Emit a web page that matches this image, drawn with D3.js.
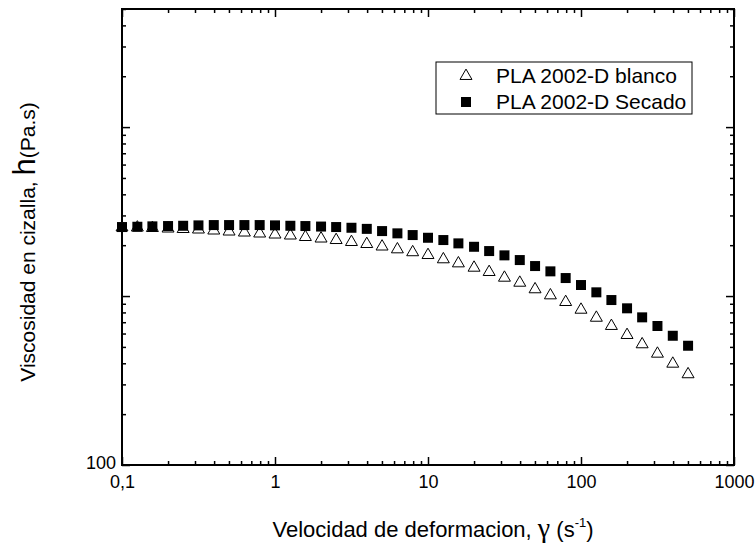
<!DOCTYPE html>
<html>
<head>
<meta charset="utf-8">
<script src="https://cdn.jsdelivr.net/npm/d3@7"></script>
<style>
body { margin: 0; background: #fff; }
</style>
</head>
<body>
<div id="chart"></div>
<script>
// shear rate (1/s), 10 points per decade
var shearRate = [0.1, 0.126, 0.158, 0.2, 0.251, 0.316, 0.398, 0.501, 0.631, 0.794,
    1, 1.26, 1.58, 2, 2.51, 3.16, 3.98, 5.01, 6.31, 7.94,
    10, 12.6, 15.8, 20, 25.1, 31.6, 39.8, 50.1, 63.1, 79.4,
    100, 126, 158, 200, 251, 316, 398, 501];

// PLA 2002-D blanco (open triangles)
var viscBlanco = [2578, 2578, 2561, 2543, 2526, 2509, 2475, 2441, 2408, 2376,
    2343, 2312, 2265, 2219, 2174, 2116, 2059, 1990, 1915, 1841,
    1772, 1672, 1582, 1491, 1406, 1301, 1215, 1111, 1023, 934,
    841, 754, 674, 596, 525, 462, 403, 349];

// PLA 2002-D Secado (filled squares)
var viscSecado = [2561, 2571, 2585, 2596, 2606, 2620, 2631, 2631, 2631, 2631,
    2620, 2606, 2596, 2578, 2561, 2536, 2498, 2424, 2350, 2296,
    2213, 2145, 2050, 1957, 1846, 1741, 1633, 1505, 1400, 1278,
    1162, 1052, 947, 846, 748, 665, 582, 508];

var xTickValues = [0.1, 1, 10, 100, 1000];
var xTickLabels = ["0,1", "1", "10", "100", "1000"];
var yTickValues = [100];
var yTickLabels = ["100"];
var seriesNames = ["PLA 2002-D blanco", "PLA 2002-D Secado"];

const width = 755, height = 544;
const margin = { top: 9, right: 21, bottom: 79, left: 122 };
const font = "'Liberation Sans', Arial, sans-serif";

var svg = d3.select("#chart")
    .append("svg")
    .attr("width", width)
    .attr("height", height)
    .style("font-family", font);

var x = d3.scaleLog()
    .domain([0.1, 1000])
    .range([margin.left, width - margin.right]);

var y = d3.scaleLog()
    .domain([100, 50000])
    .range([height - margin.bottom, margin.top]);

function isMajor(v) {
    var l = Math.log10(v);
    return Math.abs(l - Math.round(l)) < 1e-6;
}

var xMinor = x.ticks().filter(v => !isMajor(v));
var xMajor = x.ticks().filter(isMajor);
var yMinor = y.ticks().filter(v => !isMajor(v));
var yMajor = y.ticks().filter(isMajor);

function styleAxis(g) {
    g.select(".domain").remove();
    g.selectAll("line").attr("stroke", "#000").attr("stroke-width", 1.5);
}

// inward ticks on all four sides
var bottomY = height - margin.bottom, topY = margin.top;
var leftX = margin.left, rightX = width - margin.right;

svg.append("g").attr("transform", `translate(0,${bottomY})`)
    .call(d3.axisBottom(x).tickValues(xMinor).tickSize(-4).tickFormat(""))
    .call(styleAxis);
svg.append("g").attr("transform", `translate(0,${bottomY})`)
    .call(d3.axisBottom(x).tickValues(xTickValues).tickSize(-8).tickPadding(10)
        .tickFormat((d, i) => xTickLabels[i]))
    .call(styleAxis)
    .call(g => g.selectAll("text").attr("fill", "#000")
        .style("font-size", "18px").style("font-family", font));

svg.append("g").attr("transform", `translate(0,${topY})`)
    .call(d3.axisTop(x).tickValues(xMinor).tickSize(-4).tickFormat(""))
    .call(styleAxis);
svg.append("g").attr("transform", `translate(0,${topY})`)
    .call(d3.axisTop(x).tickValues(xMajor).tickSize(-8).tickFormat(""))
    .call(styleAxis);

svg.append("g").attr("transform", `translate(${leftX},0)`)
    .call(d3.axisLeft(y).tickValues(yMinor).tickSize(-4).tickFormat(""))
    .call(styleAxis);
svg.append("g").attr("transform", `translate(${leftX},0)`)
    .call(d3.axisLeft(y).tickValues(yMajor).tickSize(-8).tickFormat(""))
    .call(styleAxis);
svg.append("g").attr("transform", `translate(${leftX},0)`)
    .call(d3.axisLeft(y).tickValues(yTickValues).tickSize(0).tickPadding(6)
        .tickFormat((d, i) => yTickLabels[i]))
    .call(styleAxis)
    .call(g => g.selectAll("text").attr("fill", "#000").attr("dy", "0.2em")
        .style("font-size", "18px").style("font-family", font));

svg.append("g").attr("transform", `translate(${rightX},0)`)
    .call(d3.axisRight(y).tickValues(yMinor).tickSize(-4).tickFormat(""))
    .call(styleAxis);
svg.append("g").attr("transform", `translate(${rightX},0)`)
    .call(d3.axisRight(y).tickValues(yMajor).tickSize(-8).tickFormat(""))
    .call(styleAxis);

// frame
svg.append("rect")
    .attr("x", leftX).attr("y", topY)
    .attr("width", rightX - leftX).attr("height", bottomY - topY)
    .attr("fill", "none").attr("stroke", "#000").attr("stroke-width", 2);

var tri = d3.symbol().type(d3.symbolTriangle).size(62);
var sq = d3.symbol().type(d3.symbolSquare).size(100);

svg.append("g").selectAll("path")
    .data(shearRate.map((s, i) => [s, viscBlanco[i]]))
    .enter().append("path")
    .attr("d", tri)
    .attr("transform", d => `translate(${x(d[0])},${y(d[1]) + 1})`)
    .attr("fill", "#fff").attr("stroke", "#000").attr("stroke-width", 1);

svg.append("g").selectAll("path")
    .data(shearRate.map((s, i) => [s, viscSecado[i]]))
    .enter().append("path")
    .attr("d", sq)
    .attr("transform", d => `translate(${x(d[0])},${y(d[1])})`)
    .attr("fill", "#000");

// legend
var legend = svg.append("g").attr("transform", "translate(436,62)");
legend.append("rect")
    .attr("width", 256).attr("height", 52)
    .attr("fill", "#fff").attr("stroke", "#000").attr("stroke-width", 1);
legend.append("path").attr("d", tri).attr("transform", "translate(30,14)")
    .attr("fill", "#fff").attr("stroke", "#000");
legend.append("path").attr("d", sq).attr("transform", "translate(30,40)")
    .attr("fill", "#000");
legend.selectAll("text.entry")
    .data(seriesNames)
    .enter().append("text")
    .attr("class", "entry")
    .attr("x", 60)
    .attr("y", (d, i) => 21 + i * 26)
    .style("font-size", "21px")
    .text(d => d);

// axis titles
var xt = svg.append("text")
    .attr("x", 433).attr("y", 537)
    .attr("text-anchor", "middle")
    .style("font-size", "22px");
xt.append("tspan").text("Velocidad de deformacion, ");
xt.append("tspan").style("font-family", "'Liberation Serif', serif").style("font-size", "28px").text("γ");
xt.append("tspan").text(" (s");
xt.append("tspan").attr("dy", -10).style("font-size", "13px").text("-1");
xt.append("tspan").attr("dy", 10).text(")");

var yt = svg.append("text")
    .attr("transform", "translate(35,242) rotate(-90)")
    .attr("text-anchor", "middle")
    .style("font-size", "21px");
yt.append("tspan").text("Viscosidad en cizalla, ");
yt.append("tspan").style("font-size", "31px").text("h");
yt.append("tspan").text("(Pa.s)");
</script>
</body>
</html>
